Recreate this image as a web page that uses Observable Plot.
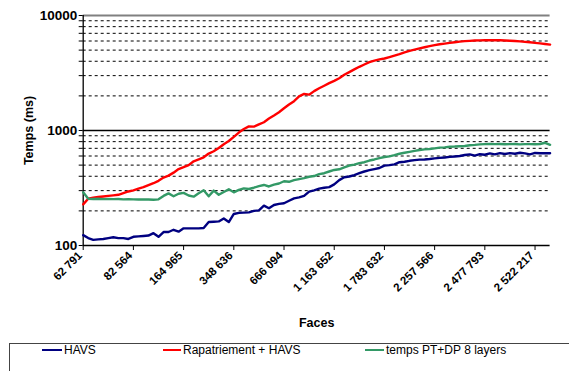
<!DOCTYPE html>
<html>
<head>
<meta charset="utf-8">
<script src="https://cdn.jsdelivr.net/npm/d3@7"></script>
<script src="https://cdn.jsdelivr.net/npm/@observablehq/plot@0.6"></script>
<style>
  html, body { margin: 0; padding: 0; background: #fff; overflow: hidden; }
  #wrap { position: relative; width: 569px; height: 371px; overflow: hidden; font-family: "Liberation Sans", Arial, sans-serif; }
  #chart { position: absolute; left: 0; top: 0; }
  #legendbox { position: absolute; left: 9px; top: 343px; width: 620px; height: 40px; border: 1px solid #444; box-sizing: border-box; }
  .sw { position: absolute; height: 2px; top: 349px; }
  .lt { position: absolute; top: 342px; font-size: 12px; line-height: 16px; color: #000; white-space: nowrap; }
</style>
</head>
<body>
<div id="wrap">
  <div id="chart"></div>
  <div id="legendbox"></div>
  <div id="legend"></div>
</div>
<script>
// Category tick labels (every 10th point)
const faces = ["62 791", "82 564", "164 965", "348 636", "666 094", "1 163 652", "1 783 632", "2 257 566", "2 477 793", "2 522 217"];

const seriesNames = ["HAVS", "Rapatriement + HAVS", "temps PT+DP 8 layers"];
const seriesColors = ["#000080", "#ff0000", "#339966"];

// HAVS (ms)
const havs = [
  123, 116, 112, 113, 114, 116, 118, 116, 116, 114,
  119, 120, 121, 122, 128, 119, 131, 131, 137, 132,
  141, 141, 141, 141, 142, 160, 161, 162, 172, 160,
  188, 192, 193, 194, 200, 202, 222, 211, 225, 230,
  233, 245, 257, 262, 270, 294, 302, 312, 318, 322,
  340, 370, 392, 398, 410, 425, 440, 452, 462, 472,
  495, 500, 508, 530, 535, 545, 552, 558, 560, 565,
  572, 578, 582, 590, 595, 600, 612, 620, 605, 622,
  615, 632, 620, 635, 625, 636, 628, 640, 632, 620,
  638, 635, 636, 634
];

// Rapatriement + HAVS (ms)
const rapatriement = [
  228, 255, 260, 264, 267, 270, 273, 276, 285, 295,
  302, 312, 322, 335, 348, 365, 390, 405, 430, 462,
  480, 500, 540, 560, 585, 630, 660, 705, 760, 810,
  880, 960, 1030, 1085, 1080, 1130, 1180, 1270, 1350, 1440,
  1560, 1680, 1800, 1980, 2080, 2050, 2200, 2330, 2450, 2580,
  2700, 2850, 3050, 3220, 3400, 3580, 3750, 3930, 4050, 4150,
  4230, 4350, 4480, 4620, 4780, 4920, 5050, 5180, 5300, 5420,
  5520, 5620, 5700, 5780, 5860, 5930, 5980, 6020, 6060, 6080,
  6100, 6100, 6110, 6090, 6070, 6030, 6000, 5960, 5900, 5850,
  5780, 5720, 5650, 5580
];

// temps PT+DP 8 layers (ms)
const ptdp = [
  290, 255, 254, 255, 253, 254, 253, 254, 252, 253,
  252, 251, 252, 251, 250, 252, 270, 284, 268, 282,
  287, 272, 266, 285, 302, 268, 300, 276, 292, 308,
  290, 305, 314, 310, 318, 328, 336, 326, 338, 346,
  362, 358, 370, 378, 385, 396, 402, 418, 425, 440,
  454, 460, 478, 496, 505, 520, 530, 548, 560, 575,
  588, 595, 610, 628, 640, 652, 665, 676, 685, 690,
  700, 710, 714, 722, 725, 730, 733, 745, 750, 758,
  762, 765, 762, 764, 760, 762, 763, 758, 761, 762,
  760, 763, 782, 750
];

const majorTicks = [100, 1000, 10000];
const minorGrid = [200, 300, 400, 500, 600, 700, 800, 900, 2000, 3000, 4000, 5000, 6000, 7000, 8000, 9000];

const allSeries = [havs, rapatriement, ptdp];
const rows = [];
allSeries.forEach((arr, k) => arr.forEach((v, i) => rows.push({i, v, s: seriesNames[k]})));
const tickIdx = faces.map((_, j) => j * 10);

const chart = Plot.plot({
  width: 569,
  height: 343,
  marginLeft: 82.7,
  marginRight: 19.4,
  marginTop: 15,
  marginBottom: 98,
  style: { fontFamily: "'Liberation Sans', Arial, sans-serif", color: "#000", background: "#fff" },
  x: { domain: [0, 93] },
  y: { type: "log", domain: [100, 10000] },
  color: { domain: seriesNames, range: seriesColors },
  marks: [
    Plot.ruleY(minorGrid, { stroke: "#000", strokeWidth: 1, strokeDasharray: "3,3" }),
    Plot.ruleY([1000], { stroke: "#000", strokeWidth: 1.3 }),
    Plot.ruleY([10000], { stroke: "#808080", strokeWidth: 2 }),
    Plot.axisY({
      ticks: majorTicks.concat(minorGrid),
      tickSize: 4,
      tickPadding: 2,
      tickFormat: d => majorTicks.includes(d) ? String(d) : "",
      fontWeight: "bold",
      fontSize: 13.5,
      label: null
    }),
    Plot.axisX({
      ticks: tickIdx,
      tickSize: 5,
      tickFormat: () => "",
      label: null
    }),
    Plot.axisX({
      ticks: tickIdx,
      tickFormat: i => faces[i / 10],
      tickRotate: -45,
      tickSize: 0,
      tickPadding: 8,
      dx: -3,
      fontWeight: "bold",
      fontSize: 11.5,
      label: null
    }),
    Plot.ruleX([0], { stroke: "#000", strokeWidth: 1.3 }),
    Plot.ruleY([100], { stroke: "#000", strokeWidth: 1.3 }),
    Plot.lineY(rows, { x: "i", y: "v", z: "s", stroke: "s", strokeWidth: 2.4 }),
    Plot.text(["Temps (ms)"], { frameAnchor: "left", dx: -54, rotate: -90, fontWeight: "bold", fontSize: 12.5, textAnchor: "middle", lineAnchor: "middle" }),
    Plot.text(["Faces"], { frameAnchor: "bottom", dy: 77, fontWeight: "bold", fontSize: 12.5, textAnchor: "middle", lineAnchor: "middle" })
  ]
});
document.getElementById("chart").appendChild(chart);

// Legend (HTML, below the SVG)
const legendPos = [[42, 64], [163, 183], [365, 386]];
const leg = document.getElementById("legend");
seriesNames.forEach((name, k) => {
  const sw = document.createElement("div");
  sw.className = "sw";
  sw.style.left = legendPos[k][0] + "px";
  sw.style.width = (legendPos[k][1] - legendPos[k][0] - 2) + "px";
  sw.style.background = seriesColors[k];
  leg.appendChild(sw);
  const t = document.createElement("div");
  t.className = "lt";
  t.style.left = legendPos[k][1] + "px";
  t.textContent = name;
  leg.appendChild(t);
});
</script>
</body>
</html>
